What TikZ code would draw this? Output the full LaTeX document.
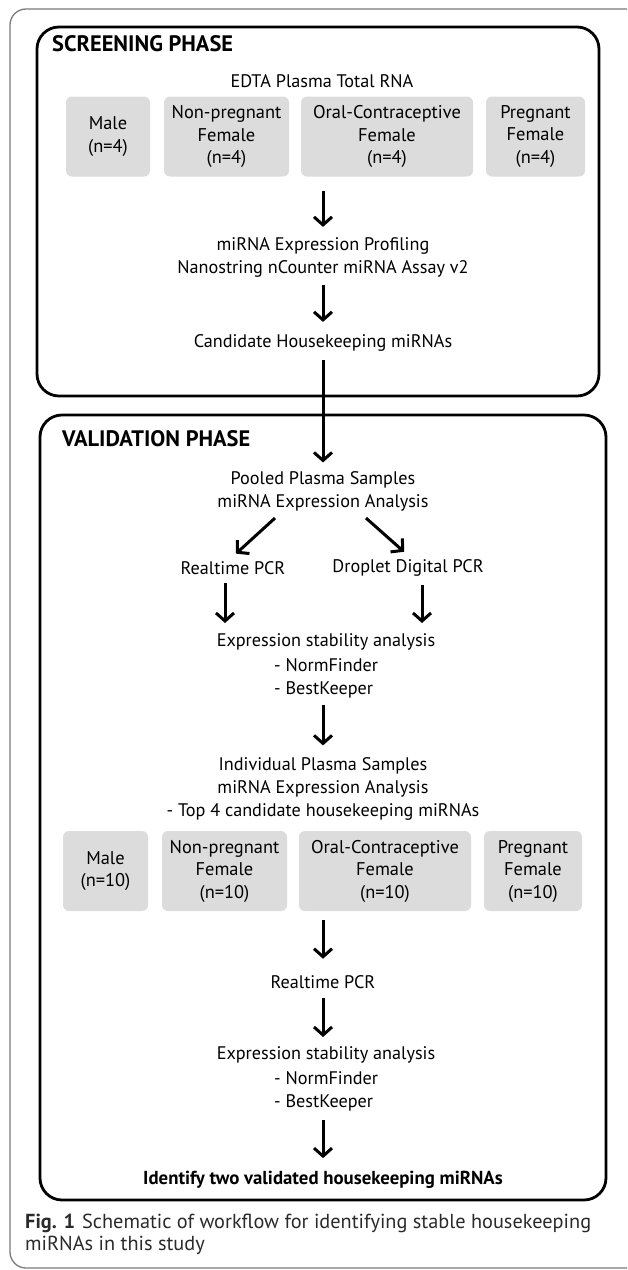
\documentclass[tikz,border=0pt]{standalone}
\usepackage{fontspec}
\setmainfont{PT Sans}
\usetikzlibrary{arrows.meta,calc}
\definecolor{boxgray}{HTML}{DCDCDC}
\definecolor{framegray}{HTML}{7A7A7A}
\definecolor{captext}{HTML}{2A2A2A}
\begin{document}
\begin{tikzpicture}[x=1pt,y=-1pt,
  txt/.style={font=\fontsize{18.2}{23}\selectfont, align=center, inner sep=0pt},
  lft/.style={font=\fontsize{18.2}{23}\selectfont, align=left, inner sep=0pt, anchor=west},
  grp/.style={fill=boxgray, rounded corners=6pt, font=\fontsize{18.4}{22.5}\selectfont, align=center, inner sep=0pt, minimum height=80pt},
  phase/.style={draw, line width=2.8pt, rounded corners=22pt},
  arr/.style={line width=3pt, -{Straight Barb[length=8pt,width=18pt]}},
  ttl/.style={font=\fontsize{22.4}{26}\selectfont\bfseries, anchor=west, inner sep=0pt}]
\useasboundingbox (0,0) rectangle (627,1270);
\clip (0,0) rectangle (627,1270);
\draw[framegray, line width=1.3pt, rounded corners=16pt] (10,9) rectangle (680,1268);

% phase frames
\draw[phase] (37,27) rectangle (599,396);
\draw[phase] (40,415) rectangle (606,1200);

% screening phase
\node[ttl] (t1) at (52,44) {SCREENING PHASE};
\node[txt] (edta) at (322,81) {EDTA Plasma Total RNA};
\node[grp, minimum width=84pt]  (m1) at (108,136.5) {Male\\(n=4)};
\node[grp, minimum width=125pt] (n1) at (226.5,136.5) {Non-pregnant\\Female\\(n=4)};
\node[grp, minimum width=172pt] (o1) at (387,136.5) {Oral-Contraceptive\\Female\\(n=4)};
\node[grp, minimum width=99pt]  (p1) at (535.5,136.5) {Pregnant\\Female\\(n=4)};
\node[txt] (prof) at (323,257.5) {miRNA Expression Profiling\\Nanostring nCounter miRNA Assay v2};
\node[txt] (cand) at (323,343) {Candidate Housekeeping miRNAs};

% validation phase
\node[ttl] (t2) at (62,439) {VALIDATION PHASE};
\node[txt] (pool) at (323,491) {Pooled Plasma Samples\\miRNA Expression Analysis};
\node[txt] (rt1) at (233,568) {Realtime PCR};
\node[txt] (ddp) at (408,568) {Droplet Digital PCR};
\node[txt] (esa1) at (326,642) {Expression stability analysis};
\node[lft] (nf1) at (274,678.5) {- NormFinder\\- BestKeeper};
\node[txt] (ind) at (323,788.5) {Individual Plasma Samples\\miRNA Expression Analysis\\- Top 4 candidate housekeeping miRNAs};
\node[grp, minimum width=85pt]  (m2) at (105.5,871) {Male\\(n=10)};
\node[grp, minimum width=125pt] (n2) at (224.5,871) {Non-pregnant\\Female\\(n=10)};
\node[grp, minimum width=172pt] (o2) at (385,871) {Oral-Contraceptive\\Female\\(n=10)};
\node[grp, minimum width=98pt]  (p2) at (533,871) {Pregnant\\Female\\(n=10)};
\node[txt] (rt2) at (323,982) {Realtime PCR};
\node[txt] (esa2) at (326,1055) {Expression stability analysis};
\node[lft] (nf2) at (274,1091.5) {- NormFinder\\- BestKeeper};
\node[txt, font=\fontsize{18.8}{22}\selectfont\bfseries] (ident) at (323,1180) {Identify two validated housekeeping miRNAs};

% caption
\node[anchor=west, align=left, inner sep=0pt, text=captext, font=\fontsize{20.3}{22}\selectfont] (cap) at (25,1234)
  {\textbf{Fig. 1}\hspace{7pt}Schematic of workflow for identifying stable housekeeping\\miRNAs in this study};

% connectors
\draw[arr, shorten <=14pt, shorten >=10.5pt] (o1.south -| prof.north) -- (prof.north);
\draw[arr, shorten <=7.5pt, shorten >=12.5pt] (prof.south) -- (cand.north);
\draw[arr, shorten <=8.5pt, shorten >=8.5pt] (cand.south) -- (pool.north);
\draw[arr] ($(pool.south)+(-48,7)$) -- ($(rt1.north)+(3,-7.6)$);
\draw[arr] ($(pool.south)+(43,7)$) -- ($(ddp.north)+(-4,-7.6)$);
\draw[arr, shorten <=8.5pt, shorten >=10.5pt] ($(rt1.south)+(-8,0)$) -- ($(esa1.north)+(-101,0)$);
\draw[arr, shorten <=8.5pt, shorten >=10.5pt] ($(ddp.south)+(14,0)$) -- ($(esa1.north)+(96,0)$);
\draw[arr, shorten <=6.5pt, shorten >=11.5pt] (nf1.south -| ind.north) -- (ind.north);
\draw[arr, shorten <=9pt, shorten >=16.5pt] (o2.south -| rt2.north) -- (rt2.north);
\draw[arr, shorten <=9.5pt, shorten >=9.5pt] (rt2.south) -- (esa2.north -| rt2.south);
\draw[arr, shorten <=8.5pt, shorten >=13pt] (nf2.south -| ident.north) -- (ident.north);
\end{tikzpicture}
\end{document}
